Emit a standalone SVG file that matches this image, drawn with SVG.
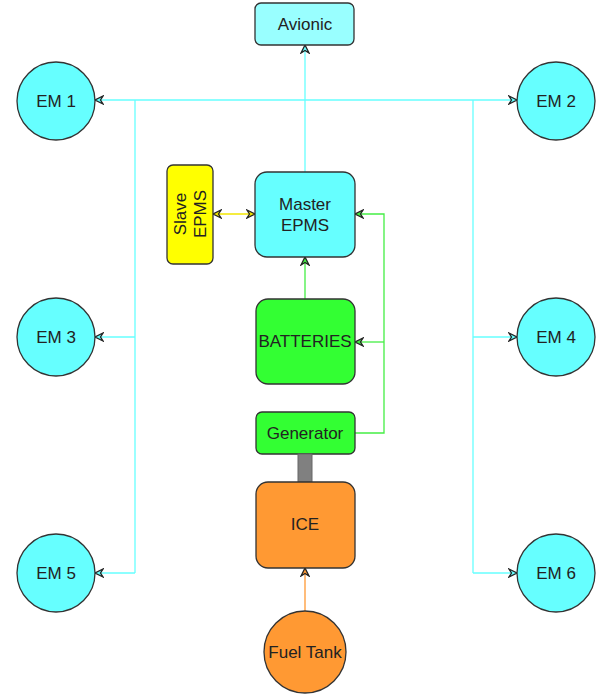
<svg xmlns="http://www.w3.org/2000/svg" width="598" height="697" viewBox="0 0 598 697">
<style>
.n{stroke:#333;stroke-width:1.3}
.t{font-family:"Liberation Sans",Arial,sans-serif;font-size:17px;fill:#222;text-anchor:middle}
.c{fill:none;stroke:#66ffff;stroke-width:1.3}
.g{fill:none;stroke:#44ee44;stroke-width:1.3}
.y{fill:none;stroke:#f2e600;stroke-width:1.3}
.o{fill:none;stroke:#ff9933;stroke-width:1.3}
</style>
<defs>
<marker id="ac" viewBox="0 0 10 10" refX="9" refY="5" markerWidth="10" markerHeight="10" markerUnits="userSpaceOnUse" orient="auto"><path d="M1,1 L9,5 L1,9 L3.5,5 Z" fill="#66ffff" stroke="#222" stroke-width="1.3"/></marker>
<marker id="ag" viewBox="0 0 10 10" refX="9" refY="5" markerWidth="10" markerHeight="10" markerUnits="userSpaceOnUse" orient="auto"><path d="M1,1 L9,5 L1,9 L3.5,5 Z" fill="#44ee44" stroke="#222" stroke-width="1.3"/></marker>
<marker id="ay" viewBox="0 0 10 10" refX="9" refY="5" markerWidth="10" markerHeight="10" markerUnits="userSpaceOnUse" orient="auto-start-reverse"><path d="M1,1 L9,5 L1,9 L3.5,5 Z" fill="#f2e600" stroke="#222" stroke-width="1.3"/></marker>
<marker id="ao" viewBox="0 0 10 10" refX="9" refY="5" markerWidth="10" markerHeight="10" markerUnits="userSpaceOnUse" orient="auto"><path d="M1,1 L9,5 L1,9 L3.5,5 Z" fill="#ff9933" stroke="#222" stroke-width="1.3"/></marker>
</defs>
<g id="connectors">
<path class="c" d="M305,172 V45" marker-end="url(#ac)"/>
<path class="c" d="M305,100 H95" marker-end="url(#ac)"/>
<path class="c" d="M305,100 H517" marker-end="url(#ac)"/>
<path class="c" d="M135,100 V573"/>
<path class="c" d="M135,337 H95" marker-end="url(#ac)"/>
<path class="c" d="M135,573 H95" marker-end="url(#ac)"/>
<path class="c" d="M473,100 V573"/>
<path class="c" d="M473,337 H517" marker-end="url(#ac)"/>
<path class="c" d="M473,573 H517" marker-end="url(#ac)"/>
<path class="y" d="M213,214 H255" marker-start="url(#ay)" marker-end="url(#ay)"/>
<path class="g" d="M305,299 V257" marker-end="url(#ag)"/>
<path class="g" d="M355,433 H384 V214 H355" marker-end="url(#ag)"/>
<path class="g" d="M384,342 H355" marker-end="url(#ag)"/>
<path class="o" d="M305,611 V568" marker-end="url(#ao)"/>
</g>
<g id="avionic"><rect class="n" x="255" y="3" width="99" height="42" rx="6" fill="#99ffff"/><text class="t" x="305" y="30">Avionic</text></g>
<g id="em1"><circle class="n" cx="56" cy="101" r="39" fill="#66ffff"/><text class="t" x="56" y="107">EM 1</text></g>
<g id="em2"><circle class="n" cx="556" cy="101" r="39" fill="#66ffff"/><text class="t" x="556" y="107">EM 2</text></g>
<g id="em3"><circle class="n" cx="56" cy="337" r="39" fill="#66ffff"/><text class="t" x="56" y="343">EM 3</text></g>
<g id="em4"><circle class="n" cx="556" cy="337" r="39" fill="#66ffff"/><text class="t" x="556" y="343">EM 4</text></g>
<g id="em5"><circle class="n" cx="56" cy="573" r="39" fill="#66ffff"/><text class="t" x="56" y="579">EM 5</text></g>
<g id="em6"><circle class="n" cx="556" cy="573" r="39" fill="#66ffff"/><text class="t" x="556" y="579">EM 6</text></g>
<g id="slave-epms"><rect class="n" x="167" y="165" width="46" height="99" rx="6" fill="#ffff00"/><text class="t" transform="translate(190,214) rotate(-90)"><tspan x="0" y="-4">Slave</tspan><tspan x="0" y="16">EPMS</tspan></text></g>
<g id="master-epms"><rect class="n" x="255" y="172" width="100" height="85" rx="12" fill="#66ffff"/><text class="t"><tspan x="305" y="210">Master</tspan><tspan x="305" y="231">EPMS</tspan></text></g>
<g id="batteries"><rect class="n" x="256" y="299" width="99" height="85" rx="12" fill="#33ff33"/><text class="t" x="305" y="347">BATTERIES</text></g>
<g id="generator"><rect class="n" x="256" y="412" width="99" height="42" rx="6" fill="#33ff33"/><text class="t" x="305" y="439">Generator</text></g>
<g id="shaft"><rect x="298" y="454" width="14" height="28" fill="#808080" stroke="#666" stroke-width="1"/></g>
<g id="ice"><rect class="n" x="256" y="482" width="99" height="86" rx="12" fill="#ff9933"/><text class="t" x="305" y="530">ICE</text></g>
<g id="fuel-tank"><circle class="n" cx="305" cy="652" r="41" fill="#ff9933"/><text class="t" x="305" y="658">Fuel Tank</text></g>
</svg>
